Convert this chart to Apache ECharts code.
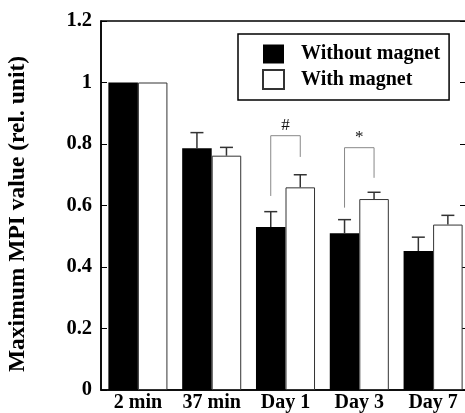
<!DOCTYPE html>
<html><head><meta charset="utf-8">
<script src="https://cdn.jsdelivr.net/npm/echarts@6/dist/echarts.min.js"></script>
<style>html,body{margin:0;padding:0;background:#fff}#c{width:465px;height:413px}</style>
</head><body><div id="c"></div>
<script>
const categories = ['2 min', '37 min', 'Day 1', 'Day 3', 'Day 7'];
const withoutMagnet = [1.0, 0.786, 0.530, 0.510, 0.452];
const withoutMagnetErr = [1.0, 0.837, 0.580, 0.554, 0.497];
const withMagnet = [1.0, 0.762, 0.659, 0.621, 0.538];
const withMagnetErr = [1.0, 0.789, 0.700, 0.643, 0.568];
const yTicks = [0, 0.2, 0.4, 0.6, 0.8, 1, 1.2];
// brackets: [categoryIndex, leftBottom, top, rightBottom, label]
const brackets = [[2, 0.631, 0.827, 0.758, '#'], [3, 0.593, 0.788, 0.690, '*']];

const serif = '"Liberation Serif","Times New Roman",serif';
const errData = [];
withoutMagnet.forEach((v, i) => { if (withoutMagnetErr[i] > v) errData.push([i, v, withoutMagnetErr[i], 0]); });
withMagnet.forEach((v, i) => { if (withMagnetErr[i] > v) errData.push([i, v, withMagnetErr[i], 1]); });

const chart = echarts.init(document.getElementById('c'));
chart.setOption({
  animation: false,
  grid: { left: 101, top: 21, bottom: 23, right: -5, outerBoundsMode: 'none', containLabel: false,
    show: true, borderColor: '#000', borderWidth: 1.5 },
  legend: {
    data: ['Without magnet', 'With magnet'],
    orient: 'vertical', left: 238, top: 34, icon: 'rect',
    padding: [10, 9, 10, 24], itemGap: 5, itemWidth: 21, itemHeight: 19,
    borderColor: '#000', borderWidth: 1.5, backgroundColor: '#fff',
    textStyle: { fontFamily: serif, fontWeight: 'bold', fontSize: 20, color: '#000', lineHeight: 19, padding: [0, 0, 0, 12] }
  },
  xAxis: {
    type: 'category', data: categories,
    axisLine: { lineStyle: { color: '#000', width: 1.5 } },
    axisTick: { show: false },
    axisLabel: { interval: 0, fontFamily: serif, fontWeight: 'bold', fontSize: 20, color: '#000', margin: 3 }
  },
  yAxis: [{
    type: 'value', min: 0, max: 1.2, interval: 0.2,
    name: 'Maximum MPI value (rel. unit)', nameLocation: 'middle', nameGap: 71,
    nameTextStyle: { fontFamily: serif, fontWeight: 'bold', fontSize: 23.5, color: '#000', padding: [0, 17, 0, 0] },
    axisLine: { show: true, lineStyle: { color: '#000', width: 1.5 } },
    axisTick: { show: true, inside: true, length: 6, lineStyle: { color: '#000' } },
    splitLine: { show: false },
    axisLabel: { fontFamily: serif, fontWeight: 'bold', fontSize: 20.5, color: '#000', margin: 9,
      formatter: v => String(Math.round(v * 10) / 10) }
  }, {
    type: 'value', min: 0, max: 1.2, interval: 0.2, position: 'right',
    axisLine: { show: true, lineStyle: { color: '#000', width: 1.5 } },
    axisTick: { show: true, inside: true, length: 10, lineStyle: { color: '#000' } },
    splitLine: { show: false }, axisLabel: { show: false }
  }],
  series: [
    { name: 'Without magnet', type: 'bar', data: withoutMagnet, barWidth: '40%', barGap: '0%',
      itemStyle: { color: '#000', borderColor: '#000', borderWidth: 0 } },
    { name: 'With magnet', type: 'bar', data: withMagnet, barWidth: '40%', barGap: '0%',
      itemStyle: { color: '#fff', borderColor: '#333', borderWidth: 1 } },
    { type: 'custom', data: errData, z: 5,
      renderItem: (params, api) => {
        const band = api.size([1, 0])[0];
        const off = (api.value(3) === 0 ? -1 : 1) * band * 0.2;
        const base = api.coord([api.value(0), api.value(1)]);
        const top = api.coord([api.value(0), api.value(2)]);
        const x = base[0] + off;
        const st = { stroke: '#333', lineWidth: 1.5 };
        return { type: 'group', children: [
          { type: 'line', shape: { x1: x, y1: base[1], x2: x, y2: top[1] }, style: st },
          { type: 'line', shape: { x1: x - 6.5, y1: top[1], x2: x + 6.5, y2: top[1] }, style: st }
        ] };
      } },
    { type: 'custom', data: brackets, z: 6,
      renderItem: (params, api) => {
        const band = api.size([1, 0])[0];
        const c = api.coord([api.value(0), api.value(2)]);
        const xl = c[0] - band * 0.2, xr = c[0] + band * 0.2;
        const yl = api.coord([api.value(0), api.value(1)])[1];
        const yr = api.coord([api.value(0), api.value(3)])[1];
        const st = { stroke: '#888', lineWidth: 1, fill: null };
        return { type: 'group', children: [
          { type: 'polyline', shape: { points: [[xl, yl], [xl, c[1]], [xr, c[1]], [xr, yr]] }, style: st },
          { type: 'text', style: { x: (xl + xr) / 2, y: c[1] - 2, text: brackets[params.dataIndex][4],
            fontFamily: serif, fontSize: 17, fill: '#111', align: 'center', verticalAlign: 'bottom' } }
        ] };
      } }
  ]
});
</script></body></html>
